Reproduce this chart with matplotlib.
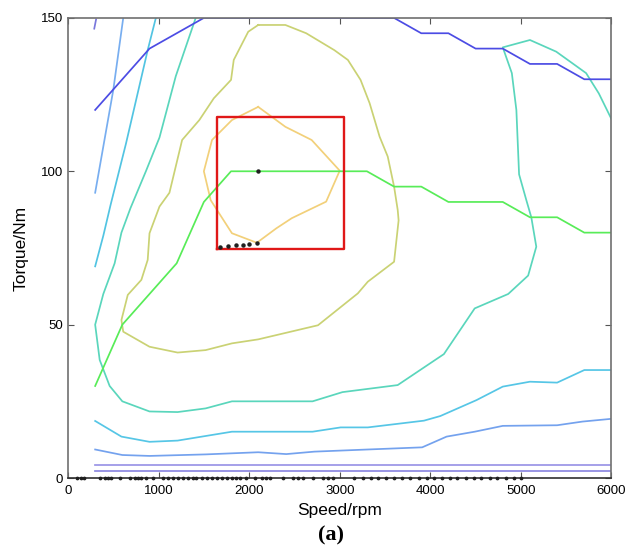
import numpy as np
import matplotlib
matplotlib.use("Agg")
import matplotlib.pyplot as plt

plt.rcParams['font.family'] = ['Liberation Sans', 'DejaVu Sans']

# contour / curve data (speed rpm, torque Nm)
max_torque_x = [300, 900, 1500, 3600, 3900, 4200, 4500, 4800, 5100, 5400, 5700, 6000]
max_torque_y = [120, 140, 150, 150, 145, 145, 140, 140, 135, 135, 130, 130]

stub_x = [290, 310]
stub_y = [146.5, 149.5]

lblue_x = [300, 500, 610]
lblue_y = [93, 126.5, 150]

cyan1_x = [300, 390, 470, 640, 880, 970]
cyan1_y = [69, 79, 89, 109, 139.5, 150]

teal_x = [1410, 1190, 1010, 860, 690, 590, 515, 390, 300, 350, 460, 600, 900, 1210,
          1520, 1810, 2700, 3030, 3640, 4150, 4490, 4860, 5080, 5170, 5115, 5060,
          4980, 4950, 4900, 4800, 5100, 5390, 5720, 5860, 6000]
teal_y = [150, 131, 111, 100, 88, 80, 70, 60, 50, 38.5, 30, 25, 21.7, 21.5,
          22.7, 25, 25, 28, 30.3, 40.4, 55.3, 60, 66, 75.4, 85, 90.6,
          99, 120, 132, 140.4, 142.8, 139, 132, 125.4, 117]

cyan2_x = [300, 590, 900, 1210, 1520, 1810, 2700, 3010, 3310, 3930, 4110, 4510,
           4800, 5100, 5400, 5700, 6000]
cyan2_y = [18.6, 13.5, 11.8, 12.2, 13.7, 15.1, 15.1, 16.5, 16.5, 18.7, 20.2, 25.4,
           29.8, 31.4, 31.1, 35.2, 35.2]

blue_x = [300, 600, 900, 1520, 2100, 2410, 2720, 3310, 3910, 4180, 4490, 4800,
          5400, 5680, 6000]
blue_y = [9.3, 7.5, 7.2, 7.7, 8.4, 7.8, 8.6, 9.3, 10.0, 13.5, 15.1, 17, 17.2, 18.4, 19.3]

flat_x = [300, 6000]
flat1_y = [4.2, 4.2]
flat2_y = [2.4, 2.4]

olive_x = [2100, 2400, 2630, 2940, 3090, 3230, 3330, 3440, 3530, 3600, 3640, 3650,
           3600, 3310, 3200, 2760, 2100, 1810, 1520, 1210, 900, 610, 590, 660, 810,
           880, 900, 1010, 1120, 1260, 1450, 1610, 1800, 1830, 1990, 2100]
olive_y = [147.7, 147.7, 145, 139.5, 136.3, 129.8, 122.2, 111.3, 104.8, 95, 87.4, 84,
           70.5, 64, 60.2, 49.8, 45.2, 43.9, 41.7, 40.9, 42.8, 47.7, 51.5, 59.7, 64.6,
           71.1, 79.8, 88.5, 93, 110.2, 116.7, 123.8, 129.8, 136.3, 145.5, 147.7]

orange_x = [2100, 2400, 2690, 3000, 2850, 2470, 2300, 2085, 1810, 1575, 1500, 1590, 1810, 2100]
orange_y = [121, 114.5, 110.2, 100.2, 90.1, 84.7, 81.4, 76.7, 79.8, 90.6, 100, 110.2, 116.7, 121]

green_x = [300, 600, 1200, 1500, 1800, 3300, 3600, 3900, 4200, 4800, 5100, 5400, 5700, 6000]
green_y = [30, 50, 70, 90, 100, 100, 95, 95, 90, 90, 85, 85, 80, 80]

box_x = [1650, 3050, 3050, 1650, 1650]
box_y = [74.6, 74.6, 117.6, 117.6, 74.6]

opt_x = [2100]
opt_y = [100]
path_x = [1680, 1770, 1850, 1930, 2000, 2085]
path_y = [75.2, 75.6, 75.9, 76.1, 76.3, 76.7]

axis_dots_x = [100, 140, 175, 350, 405, 440, 480, 570, 680, 735, 770, 805, 860, 935,
               1045, 1100, 1155, 1210, 1265, 1320, 1375, 1410, 1480, 1540, 1590, 1650,
               1700, 1755, 1810, 1850, 1900, 1960, 2065, 2140, 2185, 2230, 2375, 2485,
               2540, 2595, 2705, 2815, 2870, 2925, 3160, 3255, 3345, 3420, 3510, 3600,
               3690, 3780, 3875, 3965, 4045, 4130, 4215, 4300, 4395, 4485, 4565, 4660,
               4740, 4835, 4920, 5005]

fig = plt.figure(figsize=(6.33, 5.53), dpi=100)
ax = fig.add_axes([0.1074, 0.1356, 0.8586, 0.832])

lw = 1.25
ax.plot(lblue_x, lblue_y, color='#78aef0', lw=lw)
ax.plot(stub_x, stub_y, color='#7a78dc', lw=lw)
ax.plot(cyan1_x, cyan1_y, color='#52c4e2', lw=lw)
ax.plot(teal_x, teal_y, color='#5ad6bc', lw=lw)
ax.plot(cyan2_x, cyan2_y, color='#56c6e6', lw=lw)
ax.plot(blue_x, blue_y, color='#74a2ee', lw=lw)
ax.plot(flat_x, flat1_y, color='#9a94e6', lw=lw)
ax.plot(flat_x, flat2_y, color='#8c88e0', lw=lw)
ax.plot(olive_x, olive_y, color='#cad274', lw=lw)
ax.plot(orange_x, orange_y, color='#f2d07a', lw=lw)
ax.plot(green_x, green_y, color='#58ec58', lw=lw)
ax.plot(max_torque_x, max_torque_y, color='#4c4ce4', lw=lw)
ax.plot(box_x, box_y, color='#e01818', lw=1.7)
ax.plot(opt_x, opt_y, 'o', color='#202020', ms=2.2)
ax.plot(path_x, path_y, 'o', color='#202020', ms=2.2, ls='none')
ax.plot(axis_dots_x, [0] * len(axis_dots_x), 'o', color='#202020', ms=1.7,
        ls='none', clip_on=False, zorder=5)

ax.set_xlim(0, 6000)
ax.set_ylim(0, 150)
ax.set_xticks(np.arange(0, 6001, 1000))
ax.set_yticks([0, 50, 100, 150])
ax.tick_params(direction='in', top=True, right=True, length=4, labelsize=9.5,
               color='#555555')
ax.tick_params(axis='x', pad=5)
for s in ax.spines.values():
    s.set_color('#707070')
    s.set_linewidth(1.2)
ax.spines['bottom'].set_color('#303030')

ax.set_xlabel('Speed/rpm', fontsize=12.5, labelpad=4)
ax.set_ylabel('Torque/Nm', fontsize=12.5, labelpad=9)

fig.text(0.523, 0.032, '(a)', fontsize=16, fontweight='bold',
         family=['Liberation Serif'], ha='center', va='center')

fig.savefig('out.png', dpi=100)
